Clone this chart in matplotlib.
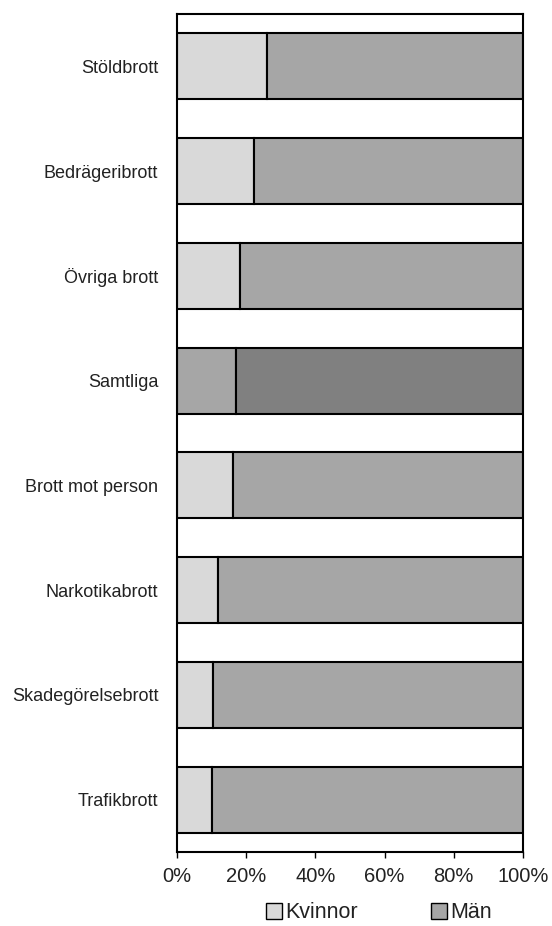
import numpy as np
import matplotlib.pyplot as plt
from matplotlib.patches import Patch
from matplotlib.ticker import PercentFormatter

plt.rcParams['font.family'] = ['Liberation Sans', 'DejaVu Sans']

# data, top to bottom
categories = ['Stöldbrott', 'Bedrägeribrott', 'Övriga brott', 'Samtliga',
              'Brott mot person', 'Narkotikabrott', 'Skadegörelsebrott', 'Trafikbrott']
kvinnor = [25.9, 22.3, 18.2, 17.0, 16.3, 11.9, 10.3, 10.0]
man = [100 - v for v in kvinnor]

light = ['#d9d9d9'] * 8
dark = ['#a6a6a6'] * 8
# Samtliga highlighted with darker shades
light[3] = '#a6a6a6'
dark[3] = '#808080'

fig = plt.figure(figsize=(5.52, 9.26), dpi=100)
ax = fig.add_axes([177/552, 1 - 852/926, 346/552, 838/926])

y = np.arange(len(categories))
ax.barh(y, kvinnor, height=0.63, color=light, edgecolor='black', linewidth=1.5)
ax.barh(y, man, left=kvinnor, height=0.63, color=dark, edgecolor='black', linewidth=1.5)

ax.set_ylim(len(categories) - 0.5, -0.5)
ax.set_xlim(0, 100)
ax.set_yticks(y)
ax.set_yticklabels(categories, fontsize=13, color='#222222')
ax.tick_params(axis='y', length=0, pad=13.5)
ax.set_xticks([0, 20, 40, 60, 80, 100])
ax.xaxis.set_major_formatter(PercentFormatter(decimals=0))
ax.tick_params(axis='x', labelsize=14.5, length=4, width=1, direction='out', pad=7,
               labelcolor='#222222')
for s in ax.spines.values():
    s.set_linewidth(1.5)

handles = [Patch(facecolor='#d9d9d9', edgecolor='black', label='Kvinnor'),
           Patch(facecolor='#a6a6a6', edgecolor='black', label='Män')]
fig.legend(handles=handles, loc='center', bbox_to_anchor=(379/552, 1 - 913/926),
           ncol=2, frameon=False, fontsize=15.5, handlelength=0.75, handleheight=0.75,
           handletextpad=0.15, columnspacing=3.4, labelcolor='#222222',
           borderpad=0.2)

fig.savefig('out.png', dpi=100)
